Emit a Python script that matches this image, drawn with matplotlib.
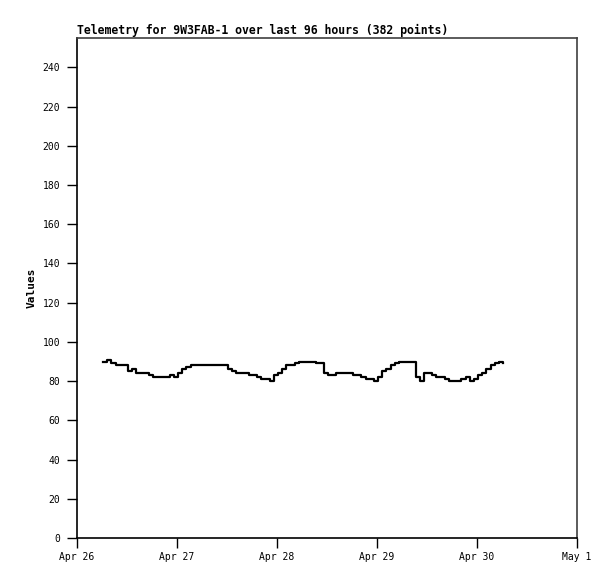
#!/usr/bin/env python3

import datetime as dt
import matplotlib
matplotlib.use("Agg")
import matplotlib.pyplot as plt
import matplotlib.dates as mdates

# hourly readings, starting Apr 26 06:15
start_time = dt.datetime(2024, 4, 26, 6, 15)
values = [
    90, 91, 89, 88, 88, 88, 85, 86, 84, 84, 84, 83, 82, 82, 82, 82,
    83, 82, 84, 86, 87, 88, 88, 88, 88, 88, 88, 88, 88, 88, 86, 85,
    84, 84, 84, 83, 83, 82, 81, 81, 80, 83, 84, 86, 88, 88, 89, 90,
    90, 90, 90, 89, 89, 84, 83, 83, 84, 84, 84, 84, 83, 83, 82, 81,
    81, 80, 82, 85, 86, 88, 89, 90, 90, 90, 90, 82, 80, 84, 84, 83,
    82, 82, 81, 80, 80, 80, 81, 82, 80, 81, 83, 84, 86, 88, 89, 90,
    89,
]
times = [start_time + dt.timedelta(hours=i) for i in range(len(values))]

x_start = dt.datetime(2024, 4, 26)
x_end = dt.datetime(2024, 5, 1)
y_ticks = list(range(0, 241, 20))

mono = "DejaVu Sans Mono"

fig = plt.figure(figsize=(6.15, 5.79), dpi=100)
ax = fig.add_axes([77 / 615, 41 / 579, 500 / 615, 500 / 579])

ax.step(times, values, where="post", color="black", linewidth=1.6)

ax.set_xlim(x_start, x_end)
ax.set_ylim(0, 255)
ax.set_yticks(y_ticks)
ax.xaxis.set_major_locator(mdates.DayLocator())
ax.xaxis.set_major_formatter(mdates.DateFormatter("%b %-d"))

ax.tick_params(direction="out", length=7, width=1, colors="black",
               labelsize=7, pad=5)
ax.tick_params(axis="x", pad=3)
for lbl in ax.get_xticklabels() + ax.get_yticklabels():
    lbl.set_fontfamily(mono)

# gnuplot style frame: dark left/bottom, grey top/right
for side in ("left", "bottom"):
    ax.spines[side].set_color("black")
    ax.spines[side].set_linewidth(1.2)
for side in ("top", "right"):
    ax.spines[side].set_color("#404040")
    ax.spines[side].set_linewidth(1.2)

ax.set_ylabel("Values", fontfamily=mono, fontweight="bold", fontsize=8, labelpad=4)
ax.set_title("Telemetry for 9W3FAB-1 over last 96 hours (382 points)",
             loc="left", fontfamily=mono, fontweight="bold", fontsize=8.3, pad=3)

fig.savefig("out.png", dpi=100)
